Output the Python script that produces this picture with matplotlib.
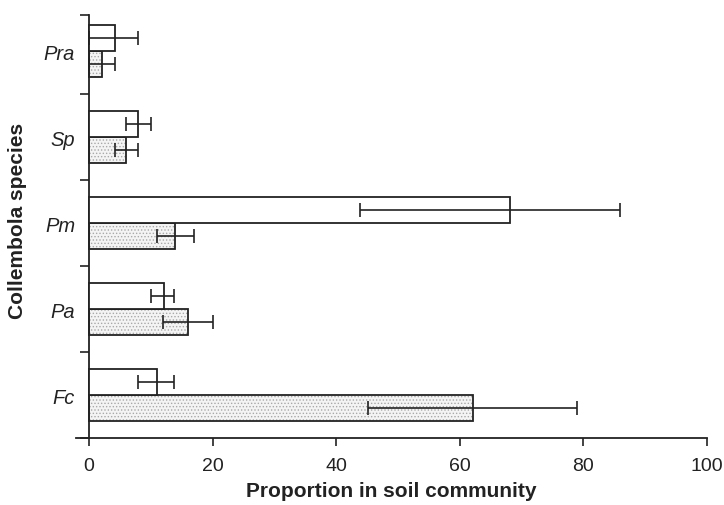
import numpy as np
import matplotlib.pyplot as plt

plt.rcParams['font.family'] = ['Liberation Sans', 'DejaVu Sans']
plt.rcParams['hatch.linewidth'] = 0.6

# species, top to bottom on the chart
species = ['Pra', 'Sp', 'Pm', 'Pa', 'Fc']

# open bars (upper bar of each pair)
open_mean = [4.2, 8.0, 68.1, 12.1, 11.0]
open_low = [0.0, 6.0, 43.9, 10.0, 7.9]
open_high = [7.9, 10.1, 85.9, 13.8, 13.8]

# stippled bars (lower bar of each pair)
dot_mean = [2.1, 6.0, 13.9, 16.0, 62.1]
dot_low = [0.0, 4.2, 11.0, 12.0, 45.1]
dot_high = [4.2, 7.9, 17.0, 20.1, 79.0]

x_ticks = [0, 20, 40, 60, 80, 100]

# -----------------------------
# FIGURE
# -----------------------------
fig = plt.figure(figsize=(7.24, 5.06), dpi=100)
ax = fig.add_axes([76 / 724, 67 / 506, (707 - 76) / 724, (439 - 16) / 506])

n = len(species)
ypos = np.arange(n)[::-1]  # Pra on top
h = 0.30

om = np.array(open_mean)
dm = np.array(dot_mean)
open_err = [om - np.array(open_low), np.array(open_high) - om]
dot_err = [dm - np.array(dot_low), np.array(dot_high) - dm]

# stipple fill first, outline on top
ax.barh(ypos - h / 2, dm, height=h, color='#f4f4f4', edgecolor='#a8a8a8',
        hatch='.....', linewidth=0, zorder=2)
ax.barh(ypos - h / 2, dm, height=h, fill=False, edgecolor='#222222',
        linewidth=1.3, zorder=3)
ax.barh(ypos + h / 2, om, height=h, color='white', edgecolor='#222222',
        linewidth=1.3, zorder=3)

ax.errorbar(om, ypos + h / 2, xerr=open_err, fmt='none', ecolor='#222222',
            elinewidth=1.2, capsize=5, capthick=1.2, zorder=4)
ax.errorbar(dm, ypos - h / 2, xerr=dot_err, fmt='none', ecolor='#222222',
            elinewidth=1.2, capsize=5, capthick=1.2, zorder=4)

# -----------------------------
# AXES STYLE
# -----------------------------
ax.set_xlim(-2.1, 100)
ax.set_ylim(-0.5, 4.42)

for s in ['top', 'right']:
    ax.spines[s].set_visible(False)
ax.spines['left'].set_position(('data', 0))
ax.spines['left'].set_linewidth(1.3)
ax.spines['bottom'].set_linewidth(1.3)
ax.spines['left'].set_color('#222222')
ax.spines['bottom'].set_color('#222222')

ax.set_xticks(x_ticks)
ax.set_xticklabels([str(t) for t in x_ticks], fontsize=14, color='#222222')
ax.tick_params(axis='x', direction='out', length=6, width=1.2, pad=8,
               color='#222222')

ax.set_yticks(ypos)
ax.set_yticklabels(species, fontsize=14.5, style='italic', color='#222222')
ax.set_yticks([-0.5, 0.5, 1.5, 2.5, 3.5, 4.42], minor=True)
ax.tick_params(axis='y', which='major', length=0, pad=10)
ax.tick_params(axis='y', which='minor', direction='out', length=6.5,
               width=1.2, color='#222222')

ax.set_xlabel('Proportion in soil community', fontsize=15, fontweight='bold',
              color='#222222', labelpad=5)
fig.text(18 / 724, 1 - 221 / 506, 'Collembola species', rotation=90,
         fontsize=15, fontweight='bold', color='#222222',
         ha='center', va='center')

fig.savefig('out.png', dpi=100)
